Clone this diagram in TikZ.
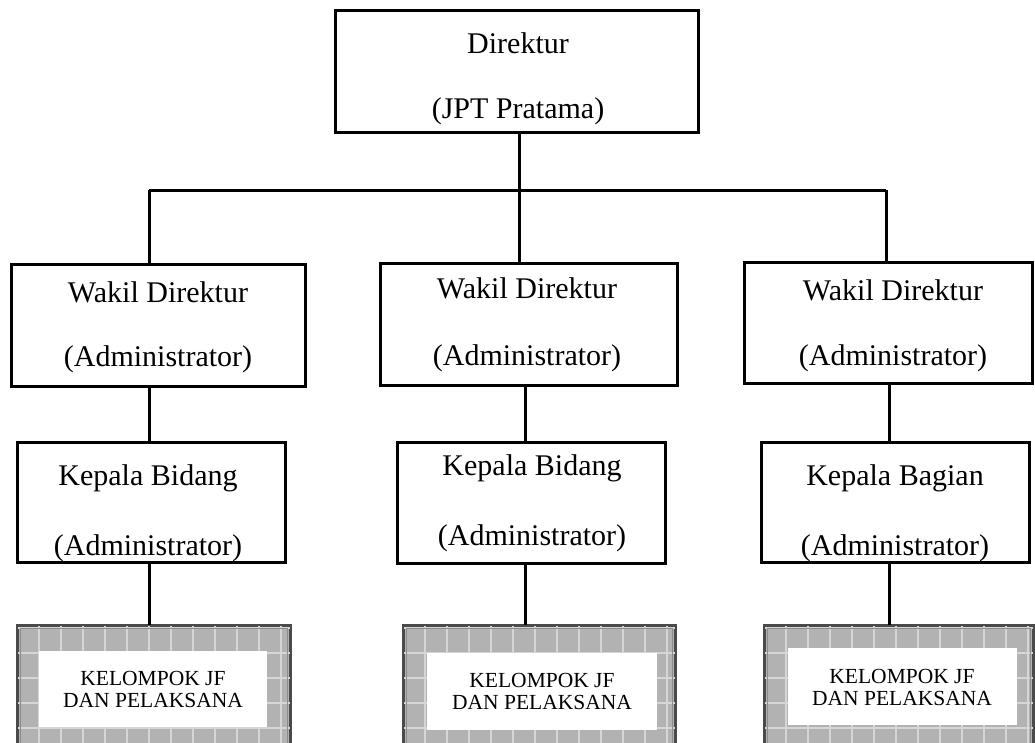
\documentclass[tikz,border=0pt]{standalone}
\usepackage{fontspec}
\setmainfont{Liberation Serif}
\definecolor{tilegray}{HTML}{B2B2B2}
\definecolor{tileline}{HTML}{D6D6D6}
\definecolor{frameedge}{HTML}{4A4A4A}
\definecolor{frameinner}{HTML}{8C8C8C}
\tikzset{
  orgbox/.style={draw=black, line width=3pt, fill=white, inner sep=0pt, rectangle},
  conn/.style={draw=black, line width=3pt},
  lbl/.style={anchor=base, inner sep=0pt, font=\fontsize{30}{36}\selectfont},
  small/.style={anchor=base, inner sep=0pt, font=\fontsize{21.5}{26}\selectfont},
  tileframe/.style={draw=frameedge, line width=2pt, fill=tilegray, inner sep=0pt, rectangle},
  whitepanel/.style={fill=white, draw=none, inner sep=0pt, rectangle},
}
% tiled frame around a group box: #1 = node name
\newcommand{\tiles}[1]{%
  \begin{scope}
    \clip (#1.north west) rectangle (#1.south east);
    \foreach \gx in {0,22,...,300} {
      \draw[tileline, line width=1.3pt] ([xshift=\gx pt]#1.north west) -- ([xshift=\gx pt]#1.south west);
    }
    \foreach \gy in {3,28,...,160} {
      \draw[tileline, line width=1.3pt] ([yshift=-\gy pt]#1.north west) -- ([yshift=-\gy pt]#1.north east);
    }
  \end{scope}
  \draw[frameedge, line width=2pt] (#1.north west) rectangle (#1.south east);
  \draw[frameinner, line width=1pt] ([shift={(3.5pt,-3.5pt)}]#1.north west) rectangle ([shift={(-3.5pt,3.5pt)}]#1.south east);
}
\begin{document}
\begin{tikzpicture}[x=1pt,y=-1pt]
\path[use as bounding box, clip] (0,0) rectangle (1035,742);
\fill[white] (0,0) rectangle (1035,742);

% boxes
\node[orgbox, minimum width=363pt, minimum height=122pt] (dir) at (516.5,71) {};
\node[orgbox, minimum width=294pt, minimum height=122pt] (wd1) at (158,325) {};
\node[orgbox, minimum width=297pt, minimum height=122pt] (wd2) at (528.5,324) {};
\node[orgbox, minimum width=288pt, minimum height=121pt] (wd3) at (888,322.5) {};
\node[orgbox, minimum width=268pt, minimum height=120pt] (kb1) at (151,502) {};
\node[orgbox, minimum width=268pt, minimum height=121pt] (kb2) at (531,502.5) {};
\node[orgbox, minimum width=268pt, minimum height=120pt] (kb3) at (895,502) {};

% tiled group boxes
\node[tileframe, minimum width=272pt, minimum height=144pt] (jf1) at (154,698) {};
\node[tileframe, minimum width=271pt, minimum height=144pt] (jf2) at (539.5,698) {};
\node[tileframe, minimum width=268pt, minimum height=144pt] (jf3) at (899,698) {};
\tiles{jf1}
\tiles{jf2}
\tiles{jf3}
\node[whitepanel, minimum width=228pt, minimum height=76pt] (in1) at (153,689) {};
\node[whitepanel, minimum width=230pt, minimum height=77pt] (in2) at (542,691.5) {};
\node[whitepanel, minimum width=229pt, minimum height=77pt] (in3) at (902.5,686.5) {};

% connectors
\coordinate (busL) at (149,190);
\coordinate (busC) at (519,190);
\coordinate (busR) at (886,190);
\coordinate (colC) at (525,400);
\coordinate (colR) at (889,400);
\draw[conn] (busL) -- (busR);
\draw[conn] (busC |- dir.south) -- (busC);
\draw[conn] (busL) -- (busL |- wd1.north);
\draw[conn] (busC) -- (busC |- wd2.north);
\draw[conn] (busR) -- (busR |- wd3.north);
\draw[conn] (busL |- wd1.south) -- (busL |- kb1.north);
\draw[conn] (colC |- wd2.south) -- (colC |- kb2.north);
\draw[conn] (colR |- wd3.south) -- (colR |- kb3.north);
\draw[conn] (busL |- kb1.south) -- (busL |- jf1.north);
\draw[conn] (colC |- kb2.south) -- (colC |- jf2.north);
\draw[conn] (colR |- kb3.south) -- (colR |- jf3.north);

% labels
\node[lbl] (dirA) at (518,53) {Direktur};
\node[lbl] (dirB) at (518,118) {(JPT Pratama)};
\node[lbl] (wd1A) at (158,302) {Wakil Direktur};
\node[lbl] (wd1B) at (158,366) {(Administrator)};
\node[lbl] (wd2A) at (527,298) {Wakil Direktur};
\node[lbl] (wd2B) at (527,365) {(Administrator)};
\node[lbl] (wd3A) at (893,300) {Wakil Direktur};
\node[lbl] (wd3B) at (893,365) {(Administrator)};
\node[lbl] (kb1A) at (148,485) {Kepala Bidang};
\begin{scope}
  \clip (kb1.north west) rectangle ([yshift=1.5pt]kb1.south east);
  \node[lbl] (kb1B) at (148,555) {(Administrator)};
\end{scope}
\node[lbl] (kb2A) at (532,475) {Kepala Bidang};
\node[lbl] (kb2B) at (532,545) {(Administrator)};
\node[lbl] (kb3A) at (895,485) {Kepala Bagian};
\begin{scope}
  \clip (kb3.north west) rectangle ([yshift=1.5pt]kb3.south east);
  \node[lbl] (kb3B) at (895,555) {(Administrator)};
\end{scope}
\node[small] (jf1A) at (153,685) {KELOMPOK JF};
\node[small] (jf1B) at (153,707) {DAN PELAKSANA};
\node[small] (jf2A) at (542,687) {KELOMPOK JF};
\node[small] (jf2B) at (542,709) {DAN PELAKSANA};
\node[small] (jf3A) at (902,683) {KELOMPOK JF};
\node[small] (jf3B) at (902,705) {DAN PELAKSANA};
\end{tikzpicture}
\end{document}
